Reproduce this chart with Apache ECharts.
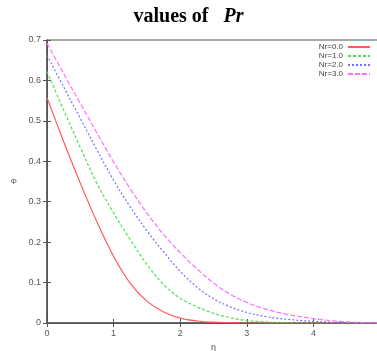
<!DOCTYPE html>
<html>
<head>
<meta charset="utf-8">
<script src="https://cdn.jsdelivr.net/npm/echarts@6/dist/echarts.min.js"></script>
<style>
  html, body { margin: 0; padding: 0; background: #fff; }
  #chart { width: 377px; height: 351px; }
</style>
</head>
<body>
<div id="chart"></div>
<script>
// eta values (x axis)
const eta = [0, 0.25, 0.5, 0.75, 1, 1.25, 1.5, 1.75, 2, 2.25, 2.5, 2.75, 3, 3.25, 3.5, 3.75, 4, 4.25, 4.5, 4.75, 5];

const seriesNames = ['Nr=0.0', 'Nr=1.0', 'Nr=2.0', 'Nr=3.0'];

// theta profiles
const nr0 = [0.557, 0.449, 0.346, 0.25, 0.165, 0.098, 0.054, 0.027, 0.012, 0.005, 0.002, 0.001, 0, 0, 0, 0, 0, 0, 0, 0, 0];
const nr1 = [0.622, 0.527, 0.434, 0.345, 0.272, 0.206, 0.145, 0.095, 0.061, 0.04, 0.024, 0.013, 0.006, 0.003, 0.001, 0, 0, 0, 0, 0, 0];
const nr2 = [0.662, 0.584, 0.506, 0.428, 0.353, 0.287, 0.228, 0.176, 0.128, 0.089, 0.06, 0.04, 0.026, 0.017, 0.011, 0.007, 0.004, 0.002, 0.001, 0, 0];
const nr3 = [0.692, 0.617, 0.543, 0.47, 0.398, 0.332, 0.272, 0.219, 0.174, 0.134, 0.099, 0.071, 0.051, 0.036, 0.025, 0.017, 0.011, 0.006, 0.003, 0.001, 0];

const xTicks = [0, 1, 2, 3, 4];

const chart = echarts.init(document.getElementById('chart'));

function pairs(ys) {
  return eta.map((x, i) => [x, ys[i]]);
}

function lineSeries(name, ys, color, type) {
  return {
    name: name,
    type: 'line',
    smooth: 0.35,
    symbol: 'none',
    lineStyle: { color: color, width: 1.2, type: type },
    itemStyle: { color: color },
    data: pairs(ys)
  };
}

const axisColor = '#555';
const labelStyle = { fontSize: 9, color: '#555', fontFamily: 'Liberation Sans' };

const option = {
  animation: false,
  title: {
    text: '{a|values of}   {b|Pr}',
    left: 'center',
    top: 2,
    textStyle: {
      rich: {
        a: { fontFamily: 'Liberation Serif', fontWeight: 'bold', fontSize: 20, color: '#000' },
        b: { fontFamily: 'Liberation Serif', fontStyle: 'italic', fontSize: 20, color: '#000' }
      }
    }
  },
  legend: {
    orient: 'vertical',
    right: 6,
    top: 43,
    padding: 0,
    align: 'right',
    itemWidth: 22,
    itemHeight: 7,
    itemGap: 1,
    itemStyle: { opacity: 0 },
    textStyle: { fontSize: 8, lineHeight: 8, color: '#444', fontFamily: 'Liberation Sans', padding: [0, 0, 0, 0] },
    data: seriesNames
  },
  grid: {
    left: 47,
    width: 333,
    top: 40,
    bottom: 28,
    outerBoundsMode: 'none',
    show: true,
    borderColor: axisColor,
    borderWidth: 1
  },
  xAxis: [{
    type: 'value',
    min: 0,
    max: 5,
    interval: 1,
    name: 'η',
    nameLocation: 'middle',
    nameGap: 20,
    nameTextStyle: { fontSize: 9, color: '#555' },
    axisLine: { lineStyle: { color: axisColor, width: 1.5 } },
    axisTick: { inside: true, length: 4, lineStyle: { color: axisColor } },
    splitLine: { show: false },
    axisLabel: Object.assign({
      margin: 6,
      formatter: v => xTicks.indexOf(v) >= 0 ? String(v) : ''
    }, labelStyle)
  }, {
    type: 'value',
    position: 'top',
    min: 0,
    max: 5,
    interval: 1,
    axisLine: { lineStyle: { color: axisColor, width: 1 } },
    axisTick: { inside: true, length: 4, lineStyle: { color: axisColor } },
    axisLabel: { show: false },
    splitLine: { show: false }
  }],
  yAxis: [{
    type: 'value',
    min: 0,
    max: 0.7,
    interval: 0.1,
    name: 'Φ',
    nameLocation: 'middle',
    nameRotate: 0,
    nameGap: 30,
    nameTextStyle: { fontSize: 8, color: '#555' },
    axisLine: { show: true, lineStyle: { color: axisColor, width: 1.5 } },
    axisTick: { show: true, inside: true, length: 4, lineStyle: { color: axisColor } },
    splitLine: { show: false },
    axisLabel: Object.assign({
      margin: 6,
      formatter: v => String(Math.round(v * 10) / 10)
    }, labelStyle)
  }, {
    type: 'value',
    position: 'right',
    min: 0,
    max: 0.7,
    interval: 0.1,
    axisLine: { show: true, lineStyle: { color: axisColor } },
    axisTick: { show: true, inside: true, length: 4, lineStyle: { color: axisColor } },
    axisLabel: { show: false },
    splitLine: { show: false }
  }],
  series: [
    lineSeries(seriesNames[0], nr0, '#ff5a5a', 'solid'),
    lineSeries(seriesNames[1], nr1, '#4fe04f', [3, 2]),
    lineSeries(seriesNames[2], nr2, '#7070ff', [2, 2]),
    lineSeries(seriesNames[3], nr3, '#ff70ff', [5, 2])
  ]
};

chart.setOption(option);
</script>
</body>
</html>
